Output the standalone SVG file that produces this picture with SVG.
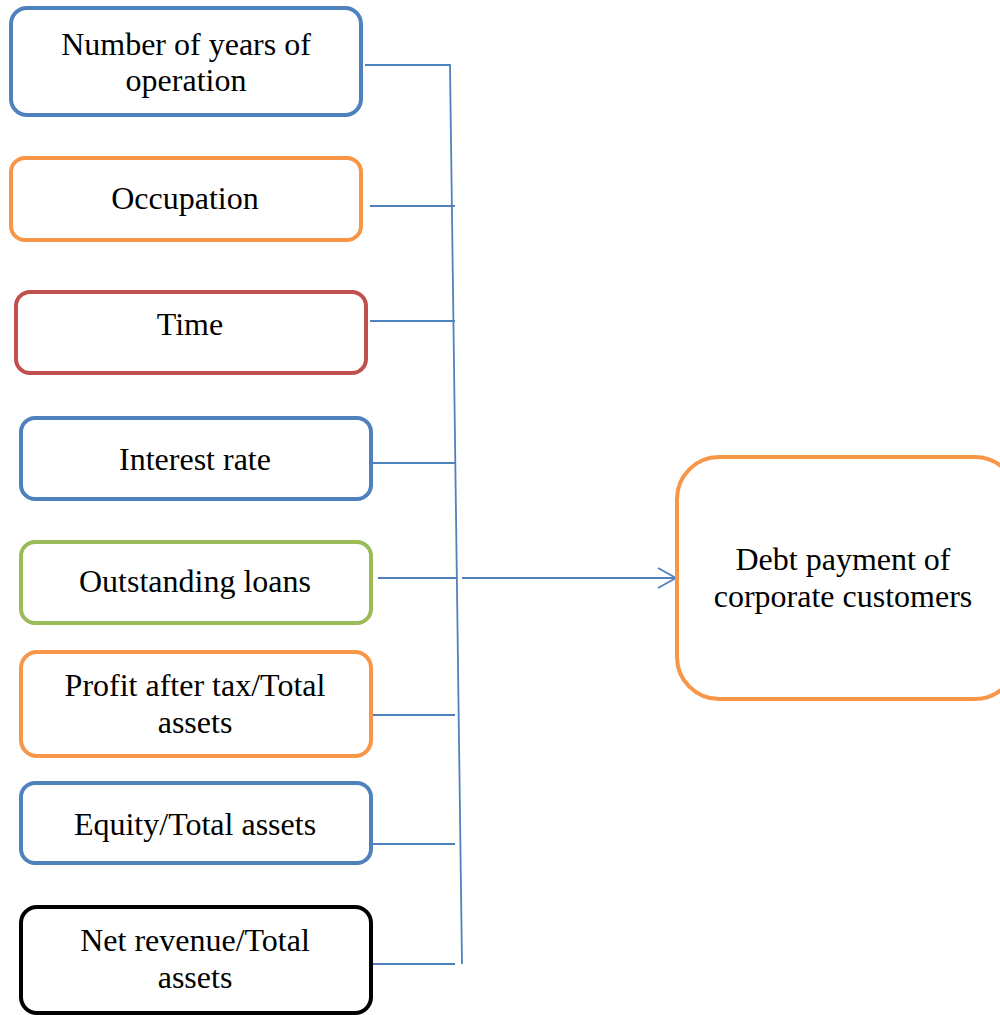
<svg xmlns="http://www.w3.org/2000/svg" width="1000" height="1015" viewBox="0 0 1000 1015">
<style>
.box{fill:#fff;stroke-width:4}
.blue{stroke:#4F81BD}
.orange{stroke:#F79646}
.red{stroke:#C0504D}
.green{stroke:#9BBB59}
.black{stroke:#000}
.t{font-family:"Liberation Serif","Times New Roman",serif;font-size:32px;fill:#000;text-anchor:middle}
.c{stroke:#4F81BD;stroke-width:1.8;fill:none}
</style>
<rect width="1000" height="1015" fill="#fff"/>
<g id="connectors">
<path class="c" d="M365 65H450L462 964"/>
<path class="c" d="M370 206H455"/>
<path class="c" d="M370 321H455"/>
<path class="c" d="M370 463H455"/>
<path class="c" d="M378 578H456M462 578H676"/>
<path class="c" d="M658 568L676 578L658 588" stroke-width="2.2"/>
<path class="c" d="M370 715H455"/>
<path class="c" d="M370 844H455"/>
<path class="c" d="M371 964H455"/>
</g>
<g id="n1"><rect class="box blue" x="11" y="8" width="350" height="107" rx="16"/><text class="t" x="186" y="55">Number of years of</text><text class="t" x="186" y="91">operation</text></g>
<g id="n2"><rect class="box orange" x="11" y="158" width="350" height="82" rx="14"/><text class="t" x="185" y="209">Occupation</text></g>
<g id="n3"><rect class="box red" x="16" y="292" width="350" height="81" rx="14"/><text class="t" x="190" y="335">Time</text></g>
<g id="n4"><rect class="box blue" x="21" y="418" width="350" height="81" rx="14"/><text class="t" x="195" y="470">Interest rate</text></g>
<g id="n5"><rect class="box green" x="21" y="542" width="350" height="81" rx="14"/><text class="t" x="195" y="592">Outstanding loans</text></g>
<g id="n6"><rect class="box orange" x="21" y="652" width="350" height="104" rx="16"/><text class="t" x="195" y="696">Profit after tax/Total</text><text class="t" x="195" y="733">assets</text></g>
<g id="n7"><rect class="box blue" x="21" y="783" width="350" height="80" rx="14"/><text class="t" x="195" y="835">Equity/Total assets</text></g>
<g id="n8"><rect class="box black" x="21" y="907" width="350" height="106" rx="16"/><text class="t" x="195" y="951">Net revenue/Total</text><text class="t" x="195" y="988">assets</text></g>
<g id="target"><rect class="box orange" x="677" y="457" width="340" height="242" rx="42"/><text class="t" x="843" y="570">Debt payment of</text><text class="t" x="843" y="607">corporate customers</text></g>
</svg>
